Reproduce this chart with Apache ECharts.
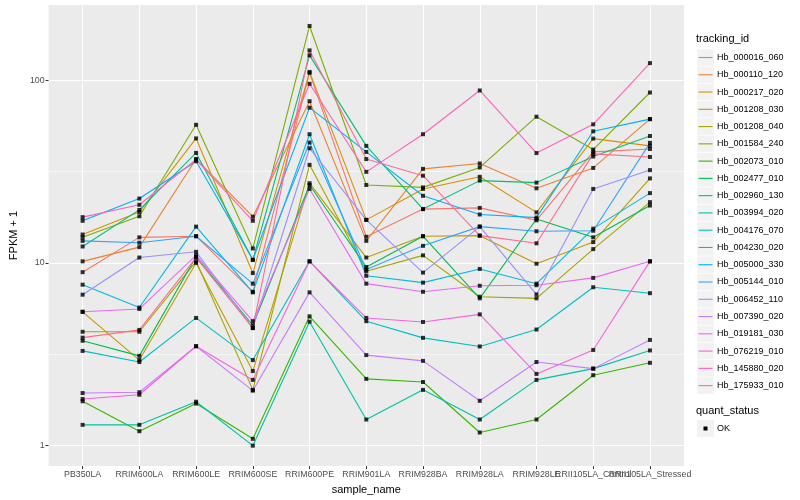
<!DOCTYPE html>
<html><head><meta charset="utf-8">
<script src="https://cdn.jsdelivr.net/npm/echarts@6/dist/echarts.min.js"></script>
<style>html,body{margin:0;padding:0;background:#fff}#c{width:800px;height:500px}</style>
</head><body><div id="c"></div>
<script>
const categories = ["PB350LA","RRIM600LA","RRIM600LE","RRIM600SE","RRIM600PE","RRIM901LA","RRIM928BA","RRIM928LA","RRIM928LE","RRII105LA_Control","RRII105LA_Stressed"];
const trackingIds = ["Hb_000016_060","Hb_000110_120","Hb_000217_020","Hb_001208_030","Hb_001208_040","Hb_001584_240","Hb_002073_010","Hb_002477_010","Hb_002960_130","Hb_003994_020","Hb_004176_070","Hb_004230_020","Hb_005000_330","Hb_005144_010","Hb_006452_110","Hb_007390_020","Hb_019181_030","Hb_076219_010","Hb_145880_020","Hb_175933_010"];
const colors = ["#F8766D","#EA8331","#D89000","#C09B00","#A3A500","#7CAE00","#39B600","#00BB4E","#00BF7D","#00C1A3","#00BFC4","#00BAE0","#00B0F6","#35A2FF","#9590FF","#C77CFF","#E76BF3","#FA62DB","#FF62BC","#FF6C91"];

const Hb_000016_060 = [8.9, 13.8, 14.0, 6.95, 109.6, 13.9, 19.7, 20, 17.1, 40.5, 42];
const Hb_000110_120 = [10.2, 12.2, 37, 17.9, 76.7, 13.2, 32.7, 35, 25.6, 33.1, 61.2];
const Hb_000217_020 = [14.3, 19, 48, 8.8, 111, 17.2, 25.4, 29.6, 18.9, 47.9, 43.7];
const Hb_001208_030 = [5.4, 2.94, 10.0, 2.56, 27.3, 10.7, 14.0, 14.1, 9.9, 13.0, 29.0];
const Hb_001208_040 = [4.2, 4.2, 10.2, 2.02, 34.4, 9.0, 11.0, 6.53, 6.4, 11.9, 21.5];
const Hb_001584_240 = [13.8, 18, 57, 12, 198, 26.7, 25.9, 33.3, 63.1, 41.7, 85.6];
const Hb_002073_010 = [1.75, 1.2, 1.7, 1.09, 5.1, 2.32, 2.23, 1.18, 1.39, 2.43, 2.84];
const Hb_002477_010 = [3.75, 3.1, 10.8, 4.56, 26.7, 9.5, 14.0, 6.4, 17.4, 13.8, 20.6];
const Hb_002960_130 = [12.3, 19.5, 40, 10.4, 136.7, 43.7, 19.7, 28.2, 27.5, 38.2, 49.5];
const Hb_003994_020 = [1.3, 1.3, 1.74, 1.0, 4.77, 1.39, 2.02, 1.39, 2.29, 2.64, 3.32];
const Hb_004176_070 = [3.3, 2.87, 5.0, 2.94, 10.2, 4.8, 3.89, 3.49, 4.32, 7.36, 6.83];
const Hb_004230_020 = [7.6, 5.7, 15.8, 6.9, 50.6, 8.5, 7.8, 9.27, 7.7, 15.4, 24.1];
const Hb_005000_330 = [17.0, 22.5, 36, 10.4, 70.7, 40.5, 23.3, 18.4, 17.7, 52.5, 61.2];
const Hb_005144_010 = [13.2, 12.9, 14.0, 7.7, 45.6, 9.2, 12.4, 15.8, 14.9, 15.0, 45.4];
const Hb_006452_110 = [6.7, 10.7, 11.5, 4.4, 42.4, 17.2, 8.85, 15.8, 6.72, 25.4, 32.2];
const Hb_007390_020 = [1.94, 1.96, 3.5, 2.0, 6.9, 3.13, 2.91, 1.76, 2.87, 2.64, 3.79];
const Hb_019181_030 = [5.4, 5.6, 11.0, 4.8, 25.4, 7.7, 6.95, 7.5, 7.55, 8.28, 10.2];
const Hb_076219_010 = [1.8, 1.9, 3.5, 2.29, 10.2, 5.0, 4.75, 5.23, 2.47, 3.34, 10.2];
const Hb_145880_020 = [17.8, 20.8, 36.8, 17.0, 95.5, 31.5, 50.6, 87.8, 39.9, 57.3, 124];
const Hb_175933_010 = [3.9, 4.3, 10.7, 4.4, 145.5, 37, 30, 14.1, 12.8, 39.5, 38];

const seriesValues = [Hb_000016_060,Hb_000110_120,Hb_000217_020,Hb_001208_030,Hb_001208_040,Hb_001584_240,Hb_002073_010,Hb_002477_010,Hb_002960_130,Hb_003994_020,Hb_004176_070,Hb_004230_020,Hb_005000_330,Hb_005144_010,Hb_006452_110,Hb_007390_020,Hb_019181_030,Hb_076219_010,Hb_145880_020,Hb_175933_010];
const yTickLabels = [1, 10, 100];
const yMinorBreaks = [Math.sqrt(10), Math.sqrt(1000)];

const FONT = 'Liberation Sans, Arial, sans-serif';
const chart = echarts.init(document.getElementById('c'), null, {renderer: 'canvas'});
const catIdx = categories.map((c, i) => i);
const evenIdx = catIdx.filter(i => i % 2 === 0);
const oddIdx = catIdx.filter(i => i % 2 === 1);

const series = [];
seriesValues.forEach((vals, k) => {
  series.push({
    type: 'line', name: trackingIds[k], xAxisIndex: 0, yAxisIndex: 0,
    data: vals.map((v, i) => [i, v]),
    showSymbol: false, symbol: 'none', silent: true, animation: false,
    lineStyle: {color: colors[k], width: 1.1}, z: 3
  });
});
const pts = [];
seriesValues.forEach(vals => vals.forEach((v, i) => pts.push([i, v])));
series.push({type: 'scatter', name: 'OK', data: pts, symbol: 'rect', symbolSize: 4, itemStyle: {color: '#000'}, z: 5, silent: true, animation: false});

const legendTop = 49;
const step = 17.27;
const graphics = [];
graphics.push({type: 'text', left: 696, top: 33, style: {text: 'tracking_id', font: '11px ' + FONT, fill: '#000'}});
trackingIds.forEach((id, k) => {
  const y = legendTop + k * step;
  graphics.push({type: 'rect', shape: {x: 697, y: y, width: 17, height: 17}, style: {fill: '#F2F2F2', stroke: '#fff', lineWidth: 0.5}});
  graphics.push({type: 'line', shape: {x1: 698.5, y1: y + 8.5, x2: 712.5, y2: y + 8.5}, style: {stroke: colors[k], lineWidth: 1.1}});
  graphics.push({type: 'text', x: 717, y: y + 8.5, style: {text: id, font: '9px ' + FONT, fill: '#000', verticalAlign: 'middle'}});
});
graphics.push({type: 'text', left: 696, top: 405, style: {text: 'quant_status', font: '11px ' + FONT, fill: '#000'}});
graphics.push({type: 'rect', shape: {x: 697, y: 420, width: 17, height: 17}, style: {fill: '#F2F2F2'}});
graphics.push({type: 'rect', shape: {x: 703.5, y: 426.5, width: 4, height: 4}, style: {fill: '#000'}});
graphics.push({type: 'text', x: 717, y: 428.5, style: {text: 'OK', font: '9px ' + FONT, fill: '#000', verticalAlign: 'middle'}});

const xLabelStyle = {formatter: v => categories[Math.round(v)] || '', fontSize: 8.8, color: '#4D4D4D', margin: 4, fontFamily: FONT, hideOverlap: false};
const option = {
  backgroundColor: '#fff',
  animation: false,
  textStyle: {fontFamily: FONT},
  grid: {left: 40, right: 116, top: 5, bottom: 32, show: true, backgroundColor: '#EBEBEB', borderWidth: 0},
  xAxis: [{
    type: 'value', min: -0.6, max: 10.6, position: 'bottom',
    name: 'sample_name', nameLocation: 'middle', nameGap: 14,
    nameTextStyle: {fontSize: 11, color: '#000', fontFamily: FONT},
    axisLine: {show: false, onZero: false},
    axisTick: {show: true, customValues: catIdx, length: 3, lineStyle: {color: '#333', width: 1}},
    axisLabel: Object.assign({customValues: evenIdx}, xLabelStyle),
    splitLine: {show: true, lineStyle: {color: '#fff', width: 1.1}}
  }, {
    type: 'value', min: -0.6, max: 10.6, position: 'bottom', offset: 0,
    axisLine: {show: false, onZero: false},
    axisTick: {show: false, customValues: oddIdx},
    axisLabel: Object.assign({customValues: oddIdx}, xLabelStyle),
    splitLine: {show: false}
  }],
  yAxis: [{
    type: 'log', logBase: 10, min: 0.773, max: 257.8,
    name: 'FPKM + 1', nameLocation: 'middle', nameGap: 26, nameRotate: 90,
    nameTextStyle: {fontSize: 11, color: '#000', fontFamily: FONT},
    axisLine: {show: false, onZero: false},
    axisTick: {show: true, customValues: yTickLabels, length: 3, lineStyle: {color: '#333', width: 1}},
    axisLabel: {customValues: yTickLabels, fontSize: 8.8, color: '#4D4D4D', margin: 4, fontFamily: FONT, formatter: v => String(Math.round(v))},
    splitLine: {show: true, lineStyle: {color: '#fff', width: 1.1}}
  }, {
    type: 'log', logBase: 10, min: 0.773, max: 257.8, position: 'left',
    axisLine: {show: false, onZero: false},
    axisTick: {show: false, customValues: yMinorBreaks},
    axisLabel: {show: false, customValues: yMinorBreaks},
    splitLine: {show: true, lineStyle: {color: '#fff', width: 0.55}}
  }],
  graphic: graphics,
  series: series
};
chart.setOption(option);
</script></body></html>
